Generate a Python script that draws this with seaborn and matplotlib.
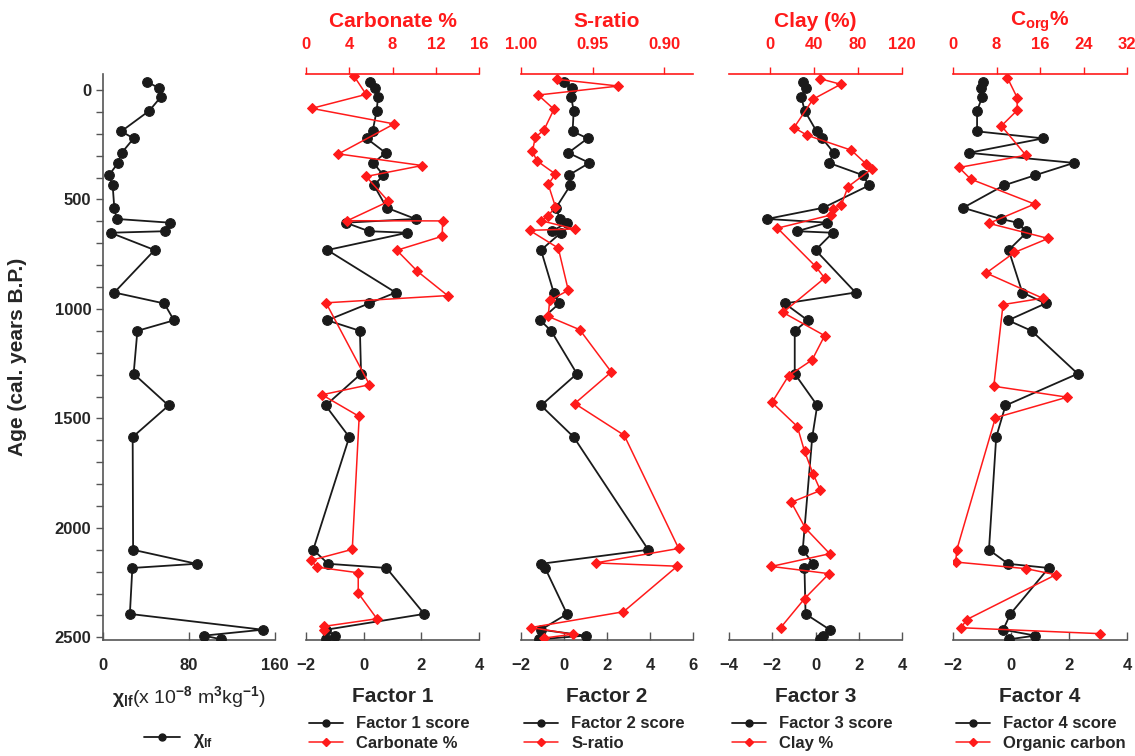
import matplotlib
matplotlib.use('Agg')
import matplotlib.pyplot as plt
import matplotlib.ticker as mticker
from matplotlib.lines import Line2D
import seaborn as sns

# === Data ===
# sample ages for chi_lf and the four factor scores (cal. years B.P.)
age_score = [-37, -9, 31, 95, 189, 221, 287, 333, 389, 436, 538, 589, 606, 645, 652,
             731, 925, 975, 1052, 1100, 1296, 1441, 1585, 2100, 2164, 2183, 2393,
             2465, 2492, 2509]
chi_lf = [41, 52, 54, 43, 17, 28.5, 17.4, 14, 5.6, 9, 10.5, 12.7, 62, 58, 7, 48,
          10.5, 57, 66, 32, 28.5, 61, 27.6, 28, 87, 27.3, 25, 148.5, 94, 110]
factor1 = [0.22, 0.39, 0.5, 0.45, 0.31, 0.1, 0.76, 0.34, 0.68, 0.36, 0.8, 1.8, -0.62,
           0.18, 1.52, -1.26, 1.11, 0.18, -1.26, -0.13, -0.09, -1.32, -0.5, -1.75,
           -1.23, 0.79, 2.1, -1.3, -1.0, -1.3]
factor2 = [0.02, 0.36, 0.33, 0.45, 0.4, 1.1, 0.2, 1.18, 0.22, 0.29, -0.37, -0.19, 0.14,
           -0.56, -0.14, -1.07, -0.48, -0.22, -1.1, -0.6, 0.6, -1.07, 0.45, 3.92,
           -1.07, -0.88, 0.14, -1.07, 1.0, -1.18]
factor3 = [-0.57, -0.42, -0.66, -0.5, 0.05, 0.31, 0.85, 0.62, 2.19, 2.47, 0.36, -2.24,
           0.54, -0.85, 0.8, 0.0, 1.85, -1.42, -0.36, -0.96, -0.96, 0.08, -0.15, -0.59,
           -0.11, -0.51, -0.46, 0.66, 0.34, 0.2]
factor4 = [-0.96, -1.05, -0.99, -1.17, -1.17, 1.11, -1.46, 2.17, 0.84, -0.25, -1.65,
           -0.36, 0.23, 0.5, 0.53, -0.08, 0.39, 1.19, -0.1, 0.71, 2.3, -0.19, -0.51,
           -0.76, -0.1, 1.3, -0.02, -0.27, 0.84, -0.08]

# proxies (red), each with its own sample ages
age_carb = [-62, 20, 84, 155, 292, 345, 395, 509, 597, 598, 668, 732, 828, 939, 972,
            1346, 1392, 1491, 2098, 2148, 2179, 2205, 2298, 2415, 2450, 2468]
carbonate = [4.46, 5.56, 0.53, 8.15, 3.0, 10.74, 5.56, 7.63, 3.82, 12.63, 12.6, 8.4,
             10.3, 13.1, 1.85, 5.87, 1.48, 4.92, 4.28, 0.47, 0.99, 4.83, 4.83, 6.56,
             1.63, 1.63]

age_sratio = [-49, -18, 23, 88, 183, 216, 279, 323, 384, 431, 533, 575, 597, 635, 641,
              722, 915, 961, 1034, 1095, 1288, 1432, 1577, 2094, 2160, 2175, 2383,
              2455, 2486, 2503]
s_ratio = [0.975, 0.932, 0.988, 0.977, 0.984, 0.990, 0.992, 0.989, 0.976, 0.981,
           0.976, 0.981, 0.986, 0.9625, 0.994, 0.974, 0.967, 0.980, 0.981, 0.959,
           0.937, 0.9625, 0.928, 0.890, 0.948, 0.891, 0.9285, 0.993, 0.964, 0.984]

age_clay = [-52, -26, 42, 172, 207, 275, 336, 359, 442, 524, 544, 571, 631, 806, 859,
            1016, 1122, 1233, 1305, 1427, 1537, 1651, 1753, 1829, 1883, 2001, 2118,
            2176, 2209, 2323, 2456]
clay = [45.3, 64.4, 39.3, 22, 34, 74, 87, 93, 71, 65, 57, 55.5, 7, 41.6, 49.8, 12,
        49.8, 38.4, 17.1, 2, 25, 31.6, 39.3, 46, 19.5, 32.3, 54.4, 1.4, 53.8, 31.6, 9.8]

age_corg = [-56, 35, 93, 164, 298, 354, 407, 521, 609, 678, 742, 836, 951, 980, 1353,
            1403, 1497, 2100, 2156, 2186, 2214, 2419, 2456, 2483]
corg = [10, 11.8, 11.8, 8.9, 13.4, 1.1, 3.25, 15, 6.6, 17.5, 11.3, 6.1, 16.5, 9.2,
        7.5, 21, 7.8, 0.7, 0.5, 13.4, 18.9, 2.5, 1.5, 27]

# === Style ===
sns.set_style('ticks')
plt.rcParams['font.family'] = ['Liberation Sans Narrow', 'Liberation Sans', 'DejaVu Sans']
plt.rcParams['font.weight'] = 'bold'
plt.rcParams['mathtext.fontset'] = 'custom'
plt.rcParams['mathtext.rm'] = 'Liberation Sans'
plt.rcParams['mathtext.it'] = 'Liberation Sans'
plt.rcParams['mathtext.bf'] = 'Liberation Sans:bold'

RED = '#ff1a1a'
BLACK = '#1a1a1a'
TICK_FS = 12
YLIM = (2512, -73)

W, H = 1135, 756
top_px, bot_px = 74, 640


def make_axes(left_px, right_px):
    return fig.add_axes([left_px / W, 1 - bot_px / H,
                         (right_px - left_px) / W, (bot_px - top_px) / H])


def black_line(ax, x, y):
    sns.lineplot(x=x, y=y, ax=ax, sort=False, estimator=None, color=BLACK,
                 linewidth=1.3, marker='o', markersize=7, markeredgecolor=BLACK,
                 markerfacecolor=BLACK, zorder=3)


def red_line(ax, x, y):
    sns.lineplot(x=x, y=y, ax=ax, sort=False, estimator=None, color=RED,
                 linewidth=1.1, marker='D', markersize=5.5, markeredgecolor=RED,
                 markerfacecolor=RED, zorder=4)


fig = plt.figure(figsize=(W / 100, H / 100), dpi=100)

# === chi_lf panel ===
ax0 = make_axes(103, 275)
black_line(ax0, chi_lf, age_score)
ax0.set_xlim(0, 160)
ax0.set_ylim(*YLIM)
ax0.set_xticks([0, 80, 160])
ax0.set_yticks([0, 500, 1000, 1500, 2000, 2500])
ax0.yaxis.set_minor_locator(mticker.MultipleLocator(100))
ax0.tick_params(axis='y', which='both', direction='out', length=5, width=1,
                labelsize=TICK_FS, color='#555555')
ax0.tick_params(axis='x', direction='in', length=6, width=1, labelsize=TICK_FS,
                pad=13, color='#555555')
for s in ['top', 'right']:
    ax0.spines[s].set_visible(False)
for s in ['left', 'bottom']:
    ax0.spines[s].set_color('#555555')
    ax0.spines[s].set_linewidth(1.2)
ax0.set_ylabel('Age (cal. years B.P.)', fontsize=15, fontweight='bold')
ax0.yaxis.set_label_coords(-0.44, 0.5)
ax0.set_xlabel(r'$\chi_{lf}$(x 10$^{-8}$ m$^{3}$kg$^{-1}$)', fontsize=14,
               fontweight='normal')
ax0.xaxis.set_label_coords(0.5, -0.1)
ax0.xaxis.label.set_va('center')
h0 = [Line2D([], [], color=BLACK, lw=1.3, marker='o', markersize=5)]
ax0.legend(h0, [r'$\chi_{lf}$'], loc='upper left', bbox_to_anchor=(0.24, -0.16),
           frameon=False, fontsize=13, handlelength=2.0, handletextpad=0.7,
           borderpad=0, borderaxespad=0)

# === Factor panels ===
panels = [
    dict(px=(306, 479), score=factor1, flim=(-2, 4), fticks=[-2, 0, 2, 4],
         proxy=carbonate, page=age_carb, plim=(0, 16), pticks=[0, 4, 8, 12, 16],
         ptitle='Carbonate %', xlabel='Factor 1', lab1='Factor 1 score',
         lab2='Carbonate %', fmt='%g'),
    dict(px=(521, 693), score=factor2, flim=(-2, 6), fticks=[-2, 0, 2, 4, 6],
         proxy=s_ratio, page=age_sratio, plim=(1.00, 0.88), pticks=[1.00, 0.95, 0.90],
         ptitle='S-ratio', xlabel='Factor 2', lab1='Factor 2 score',
         lab2='S-ratio', fmt='%.2f'),
    dict(px=(729, 902), score=factor3, flim=(-4, 4), fticks=[-4, -2, 0, 2, 4],
         proxy=clay, page=age_clay, plim=(-37, 120), pticks=[0, 40, 80, 120],
         ptitle='Clay (%)', xlabel='Factor 3', lab1='Factor 3 score',
         lab2='Clay %', fmt='%g'),
    dict(px=(953, 1127), score=factor4, flim=(-2, 4), fticks=[-2, 0, 2, 4],
         proxy=corg, page=age_corg, plim=(0, 32), pticks=[0, 8, 16, 24, 32],
         ptitle=r'C$_{\mathbf{org}}$%', xlabel='Factor 4', lab1='Factor 4 score',
         lab2='Organic carbon', fmt='%g'),
]

for p in panels:
    ax = make_axes(*p['px'])
    black_line(ax, p['score'], age_score)
    ax.set_xlim(*p['flim'])
    ax.set_xticks(p['fticks'])
    ax.set_ylim(*YLIM)
    ax.set_yticks([])
    ax.set_ylabel('')
    for s in ['top', 'left', 'right']:
        ax.spines[s].set_visible(False)
    ax.spines['bottom'].set_color('#555555')
    ax.spines['bottom'].set_linewidth(1.2)
    ax.tick_params(axis='x', direction='in', length=6, width=1, labelsize=TICK_FS,
                   pad=13, color='#555555')
    ax.set_xlabel(p['xlabel'], fontsize=15, fontweight='bold')
    ax.xaxis.set_label_coords(0.5, -0.1)
    ax.xaxis.label.set_va('center')

    tw = ax.twiny()
    red_line(tw, p['proxy'], p['page'])
    tw.set_xlim(*p['plim'])
    tw.set_xticks(p['pticks'])
    tw.xaxis.set_major_formatter(mticker.FormatStrFormatter(p['fmt']))
    tw.set_ylim(*YLIM)
    tw.set_yticks([])
    tw.set_ylabel('')
    for s in ['bottom', 'left', 'right']:
        tw.spines[s].set_visible(False)
    tw.spines['top'].set_visible(True)
    tw.spines['top'].set_color(RED)
    tw.spines['top'].set_linewidth(1.2)
    tw.tick_params(axis='x', direction='out', length=5, width=1, colors=RED,
                   labelsize=TICK_FS, pad=11)
    tw.set_xlabel(p['ptitle'], fontsize=15, fontweight='bold', color=RED)
    tw.xaxis.set_label_coords(0.5, 1 + (top_px - 22) / (bot_px - top_px))
    tw.xaxis.label.set_va('center')

    handles = [Line2D([], [], color=BLACK, lw=1.3, marker='o', markersize=5),
               Line2D([], [], color=RED, lw=1.1, marker='D', markersize=4)]
    ax.legend(handles, [p['lab1'], p['lab2']], loc='upper left',
              bbox_to_anchor=(0.02, -0.135), frameon=False, fontsize=12,
              handlelength=2.0, handletextpad=0.8, labelspacing=0.25,
              borderpad=0, borderaxespad=0)

fig.savefig('out.png', dpi=100)
plt.close(fig)
